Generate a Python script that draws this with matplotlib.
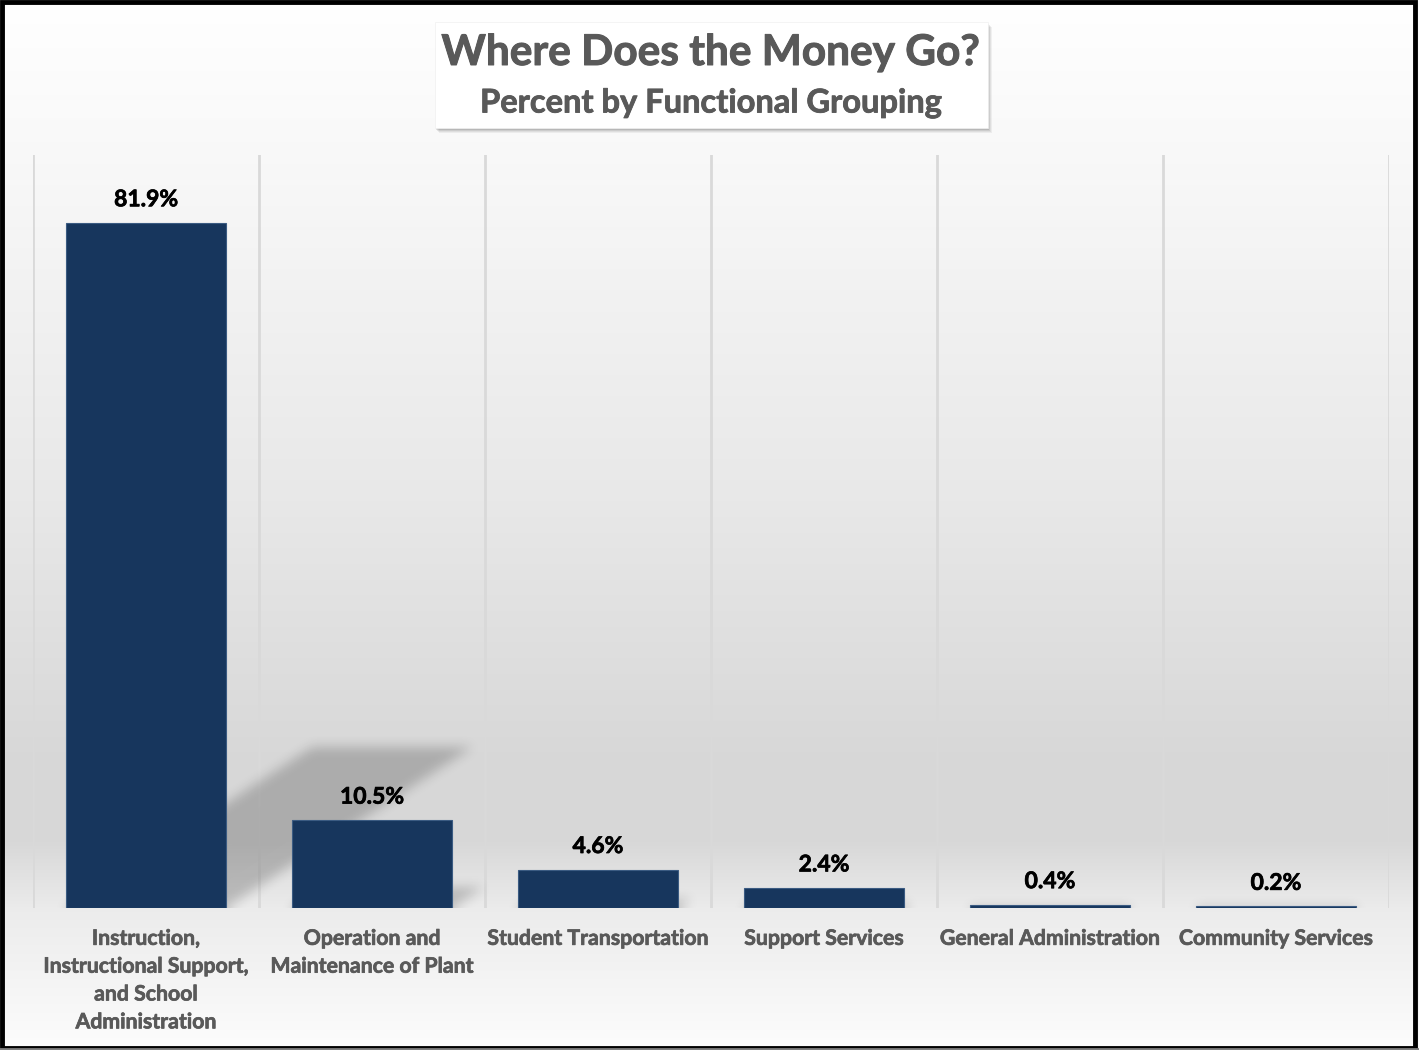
import numpy as np
import matplotlib
matplotlib.use("Agg")
import matplotlib.pyplot as plt
import matplotlib.patheffects as pe
from matplotlib.patches import Rectangle

# data
categories = ["Instruction,\nInstructional Support,\nand School\nAdministration",
              "Operation and\nMaintenance of Plant",
              "Student Transportation",
              "Support Services",
              "General Administration",
              "Community Services"]
percents = [81.9, 10.5, 4.6, 2.4, 0.4, 0.2]
title = "Where Does the Money Go?"
subtitle = "Percent by Functional Grouping"

W, H = 1419, 1050
plt.rcParams['font.family'] = ['Lato', 'DejaVu Sans']
fig = plt.figure(figsize=(W / 100, H / 100), dpi=100)


def thick(c, w=0.9):
    return [pe.withStroke(linewidth=w, foreground=c)]


# background gradient (white -> gray -> white)
bg = fig.add_axes([0, 0, 1, 1], zorder=-10)
rows = np.arange(H)
stops_y = [0, 150, 500, 760, 840, 910, 1050]
stops_v = [1.0, 0.975, 0.91, 0.845, 0.845, 0.925, 0.99]
col = np.interp(rows, stops_y, stops_v)
img = np.repeat(col[:, None], 4, axis=1)
bg.imshow(np.dstack([img, img, img]), aspect='auto', extent=[0, 1, 0, 1])
bg.set_axis_off()

# plot area
x0px, x1px, ytop, ybot = 33, 1389, 155, 908
ax = fig.add_axes([x0px / W, 1 - ybot / H, (x1px - x0px) / W, (ybot - ytop) / H])
ax.set_facecolor('none')
ax.set_xlim(-0.5, 5.5)
ax.set_ylim(0, 90)
for s in ax.spines.values():
    s.set_visible(False)
ax.set_yticks([])

x = np.arange(len(percents))
for b in np.arange(-0.5, 6.0, 1.0):
    ax.axvline(b, color='#d9d9d9', lw=2, zorder=1)

# perspective shadow behind bars
bw = 0.708
nx, ny = 1356, 753
gx = np.linspace(-0.5, 5.5, nx)
gy = np.linspace(0, 90, ny)
XX, YY = np.meshgrid(gx, gy)
mask = np.zeros_like(XX)
sc, sh = 0.234, 0.0567
for xi, h in zip(x, percents):
    top = sc * h
    inside = (YY <= top) & (XX >= xi - bw / 2 + sh * YY) & (XX <= xi + bw / 2 + sh * YY)
    mask[inside] = 1.0


def box_blur(a, r):
    for axis in (0, 1):
        padw = [(r, r) if i == axis else (0, 0) for i in range(2)]
        p = np.pad(a, padw, mode='edge')
        c = np.cumsum(p, axis=axis)
        c = np.insert(c, 0, 0, axis=axis)
        n = a.shape[axis]
        a = (np.take(c, np.arange(2 * r + 1, 2 * r + 1 + n), axis=axis)
             - np.take(c, np.arange(0, n), axis=axis)) / (2 * r + 1)
    return a


for _ in range(3):
    mask = box_blur(mask, 5)
shadow = np.zeros((ny, nx, 4))
shadow[..., 3] = mask * 0.2
ax.imshow(shadow, extent=[-0.5, 5.5, 0, 90], origin='lower', aspect='auto', zorder=2)

bars = ax.bar(x, percents, width=bw, color='#17365d', edgecolor='#3b5b82', lw=0.8, zorder=3)
for xi, v in zip(x, percents):
    ax.annotate(f"{v}%", (xi, v), xytext=(0, 9), textcoords='offset points',
                ha='center', va='bottom', fontsize=16.5, fontweight='bold', color='black',
                path_effects=thick('black', 0.5))

ax.set_xticks(x)
ax.set_xticklabels(categories, fontsize=15.3, fontweight='bold', color='#595959',
                   linespacing=1.49, va='top')
for t in ax.get_xticklabels():
    t.set_path_effects(thick('#595959', 0.5))
ax.tick_params(axis='x', length=0, pad=15)

# title box with shadow
bx0, by0, bx1, by1 = 435, 22, 988, 128
for i, a in enumerate([0.05, 0.06, 0.08, 0.1]):
    off = 5 - i
    fig.patches.append(Rectangle(((bx0 + off - 1) / W, 1 - (by1 + off) / H),
                                 (bx1 - bx0) / W, (by1 - by0) / H,
                                 transform=fig.transFigure, color='black', alpha=a, lw=0, zorder=5))
fig.patches.append(Rectangle((bx0 / W, 1 - by1 / H), (bx1 - bx0) / W, (by1 - by0) / H,
                             transform=fig.transFigure, facecolor='white', edgecolor='#f0f0f0',
                             lw=0.5, zorder=6))
fig.text(711 / W, 1 - 53 / H, title, ha='center', va='center', fontsize=30.5,
         fontweight='bold', color='#595959', zorder=7, path_effects=thick('#595959', 0.7))
fig.text(711 / W, 1 - 103 / H, subtitle, ha='center', va='center', fontsize=23.5,
         fontweight='bold', color='#595959', zorder=7, path_effects=thick('#595959', 0.6))

# outer frame
fig.patches.append(Rectangle((0.0015, 0.002), 0.9955, 0.996, transform=fig.transFigure,
                             fill=False, edgecolor='black', lw=3.5, zorder=10))
fig.add_artist(plt.Line2D([0, 1], [0.0012, 0.0012], transform=fig.transFigure,
                          color='#7f7f7f', lw=2, zorder=11))

fig.savefig('out.png', dpi=100)
